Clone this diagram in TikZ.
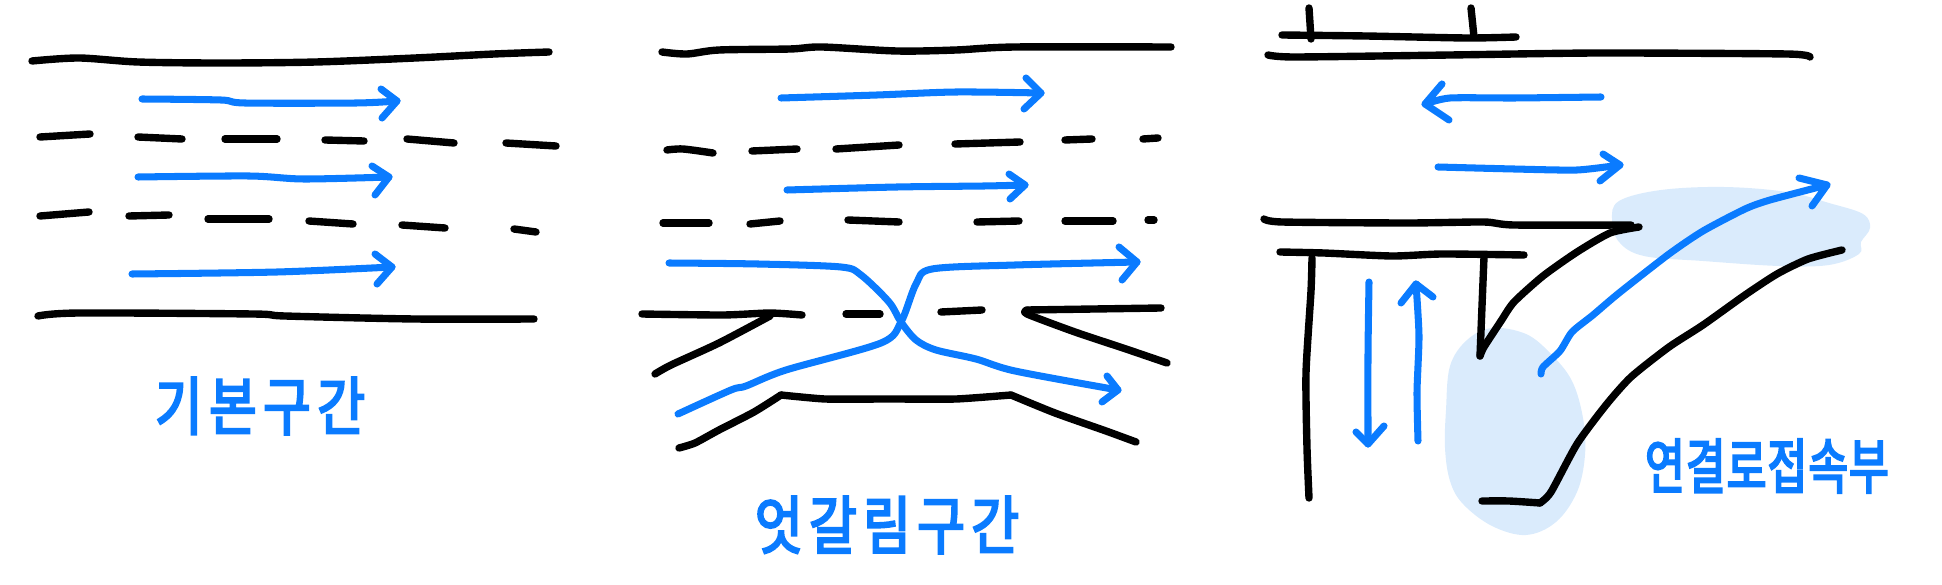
\documentclass[tikz,border=0pt]{standalone}
\usepackage{fontspec}
\usepackage{xcolor}
\usetikzlibrary{arrows.meta,positioning}
\newfontfamily\sketchfont[FakeStretch=0.82,FakeBold=3.5,LetterSpace=10]{Noto Sans CJK KR}
\newfontfamily\sketchfontsmall[FakeStretch=0.72,FakeBold=3.5,LetterSpace=2]{Noto Sans CJK KR}
\definecolor{lane}{HTML}{0A7BFF}
\definecolor{area}{HTML}{DAEBFC}
\begin{document}
\begin{tikzpicture}[
  x=0.01cm,y=-0.01cm,
  road/.style={draw=black,line width=2.1pt,line cap=round,line join=round},
  flow/.style={draw=lane,line width=2pt,line cap=round,line join=round},
  blob/.style={fill=area,draw=none},
  title/.style={text=lane,inner sep=0pt,font=\sketchfont\fontsize{18}{18}\selectfont}]
  \useasboundingbox (0,0) rectangle (1942,585);
  % shaded connections
  \fill[blob] plot[smooth cycle,tension=.6] coordinates {(1612,220) (1619,201) (1661,190) (1724,187) (1787,192) (1829,203)
    (1863,214) (1870,228) (1861,242) (1859,254) (1829,265) (1779,266) (1703,261) (1644,256) (1619,242)};
  \fill[blob] plot[smooth cycle,tension=.6] coordinates {(1446,410) (1450,366) (1467,340) (1492,328) (1526,334) (1551,354)
    (1572,381) (1583,418) (1585,455) (1577,492) (1556,522) (1526,535) (1492,526) (1463,504) (1450,481) (1445,448)};
  % basic section
  \draw[road] plot[smooth,tension=.5] coordinates {(32,61) (79,58) (138,62) (221,63) (316,62) (415,58) (494,54) (549,52)};
  \draw[road] plot[smooth,tension=.5] coordinates {(38,316) (79,313) (253,314) (285,316) (415,319) (534,319)};
  \foreach \a/\b/\c/\d in {40/137/90/134, 138/137/182/139, 225/139/277/139, 325/140/364/141, 407/139/454/143, 506/143/556/146,
                           40/216/89/212, 129/216/169/215, 208/219/269/219, 309/221/353/224, 402/225/445/228, 514/229/536/232}
    \draw[road] (\a,\b) -- (\c,\d);
  \draw[flow] plot[smooth,tension=.5] coordinates {(142,99) (221,100) (245,103) (356,103) (397,101)};
  \draw[flow] (381,89) -- (397,101) -- (382,118);
  \draw[flow] plot[smooth,tension=.5] coordinates {(138,177) (249,176) (304,179) (389,177)};
  \draw[flow] (372,166) -- (389,177) -- (375,195);
  \draw[flow] plot[smooth,tension=.5] coordinates {(132,274) (277,272) (392,267)};
  \draw[flow] (375,254) -- (392,267) -- (377,284);
  \node[title] (basic) at (260,406) {기본구간};
  % weaving section
  \draw[road] plot[smooth,tension=.5] coordinates {(662,52) (687,54) (719,50) (790,49) (822,47) (897,51) (956,50) (1015,47) (1171,47)};
  \foreach \a/\b/\c/\d in {752/151/797/149, 836/149/899/145, 955/144/1020/142, 1065/140/1092/139, 1143/139/1158/138,
                           663/223/709/223, 750/224/780/221, 848/220/899/222, 977/222/1019/221, 1065/221/1113/221, 1148/220/1154/220,
                           846/314/880/314, 941/312/982/310}
    \draw[road] (\a,\b) -- (\c,\d);
  \draw[road] plot[smooth,tension=.5] coordinates {(667,150) (683,149) (713,153)};
  \draw[road] plot[smooth,tension=.4] coordinates {(642,314) (723,315) (770,313) (802,315)};
  \draw[road] plot[smooth,tension=.4] coordinates {(770,316) (719,343) (671,365) (655,374)};
  \draw[road] plot[smooth,tension=.3] coordinates {(1161,308) (1094,309) (1027,310)};
  \draw[road] plot[smooth,tension=.4] coordinates {(1027,310) (1027,314) (1075,332) (1126,349) (1167,363)};
  \draw[road] plot[smooth,tension=.4] coordinates {(679,448) (695,443) (719,430) (754,412) (781,395)};
  \draw[road] plot[smooth,tension=.3] coordinates {(781,395) (825,399) (889,399) (956,399) (1011,395)};
  \draw[road] plot[smooth,tension=.4] coordinates {(1011,395) (1055,413) (1106,431) (1136,442)};
  \draw[flow] plot[smooth,tension=.5] coordinates {(781,98) (877,95) (956,92) (1041,93)};
  \draw[flow] (1026,78) -- (1041,93) -- (1024,109);
  \draw[flow] plot[smooth,tension=.5] coordinates {(787,190) (897,187) (984,186) (1025,185)};
  \draw[flow] (1009,174) -- (1025,185) -- (1010,199);
  \draw[flow] plot[smooth,tension=.5] coordinates {(669,263) (758,264) (841,267) (861,275) (889,302) (901,322) (916,340) (936,350) (976,359) (1015,371) (1118,390)};
  \draw[flow] (1107,376) -- (1118,390) -- (1102,402);
  \draw[flow] plot[smooth,tension=.5] coordinates {(678,414) (731,390) (746,386) (786,370) (881,343) (901,322) (916,284) (932,269) (1015,265) (1137,262)};
  \draw[flow] (1119,247) -- (1137,262) -- (1122,280);
  \node[title] (weave) at (887,525) {엇갈림구간};
  % ramp junction
  \draw[road] (1309,8) -- (1311,39);
  \draw[road] (1471,8) -- (1474,37);
  \draw[road] plot[smooth,tension=.4] coordinates {(1282,35) (1366,36) (1467,38) (1516,37)};
  \draw[road] plot[smooth,tension=.4] coordinates {(1268,55) (1295,57) (1450,55) (1598,53) (1787,54) (1810,57)};
  \draw[road] plot[smooth,tension=.4] coordinates {(1264,219) (1282,222) (1408,223) (1484,222) (1514,225) (1631,225)};
  \draw[road] plot[smooth,tension=.4] coordinates {(1639,227) (1610,233) (1577,252) (1543,276) (1514,302) (1501,321) (1484,347) (1480,356)};
  \draw[road] (1480,356) -- (1482,306) -- (1484,257);
  \draw[road] plot[smooth,tension=.4] coordinates {(1280,252) (1324,253) (1392,256) (1442,254) (1524,255)};
  \draw[road] plot[smooth,tension=.4] coordinates {(1312,258) (1311,291) (1306,373) (1307,448) (1309,498)};
  \draw[road] plot[smooth,tension=.4] coordinates {(1482,501) (1509,501) (1540,503)};
  \draw[road] plot[smooth,tension=.4] coordinates {(1540,503) (1551,492) (1577,444) (1606,405) (1631,377) (1669,347) (1703,325) (1745,295) (1777,274) (1808,259) (1842,250)};
  \draw[flow] plot[smooth,tension=.4] coordinates {(1601,97) (1514,98) (1450,98) (1425,104)};
  \draw[flow] (1442,84) -- (1425,104) -- (1449,120);
  \draw[flow] plot[smooth,tension=.4] coordinates {(1438,167) (1514,169) (1577,170) (1620,165)};
  \draw[flow] (1603,154) -- (1620,165) -- (1600,181);
  \draw[flow] plot[smooth,tension=.4] coordinates {(1369,282) (1368,354) (1368,444)};
  \draw[flow] (1356,432) -- (1368,444) -- (1384,426);
  \draw[flow] plot[smooth,tension=.4] coordinates {(1418,441) (1417,392) (1419,336) (1416,284)};
  \draw[flow] (1401,303) -- (1416,284) -- (1433,297);
  \draw[flow] plot[smooth,tension=.4] coordinates {(1541,374) (1543,367) (1560,351) (1572,332) (1593,315) (1619,293) (1669,254) (1703,231) (1745,209) (1770,200) (1827,185)};
  \draw[flow] (1799,178) -- (1827,185) -- (1812,206);
  \node[title,font=\sketchfontsmall\fontsize{17}{17}\selectfont] (ramp) at (1767,466) {연결로접속부};
\end{tikzpicture}
\end{document}
